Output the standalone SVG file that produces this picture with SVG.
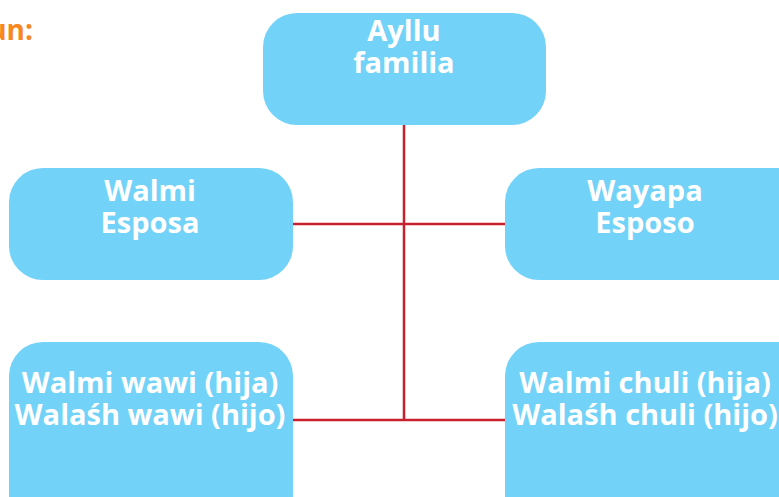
<svg xmlns="http://www.w3.org/2000/svg" width="779" height="497" viewBox="0 0 779 497">
<style>
.box{fill:#72d2f7}
.t{font-family:"Open Sans","Liberation Sans",sans-serif;font-weight:bold;font-size:29px;fill:#ffffff;text-anchor:middle}
.c{stroke:#c8202f;stroke-width:2.5;fill:none}
</style>
<rect width="779" height="497" fill="#ffffff"/>
<text x="33" y="40" font-family="Open Sans, Liberation Sans, sans-serif" font-weight="bold" font-size="28" fill="#f7871f" text-anchor="end">un:</text>
<g id="connectors">
<line class="c" x1="404" y1="125" x2="404" y2="420"/>
<line class="c" x1="293" y1="224" x2="505" y2="224"/>
<line class="c" x1="293" y1="420" x2="505" y2="420"/>
</g>
<g id="ayllu">
<rect class="box" x="263" y="13" width="283" height="112" rx="34"/>
<text class="t" x="404" y="41">Ayllu</text>
<text class="t" x="404" y="73">familia</text>
</g>
<g id="walmi">
<rect class="box" x="9" y="168" width="284" height="112" rx="34"/>
<text class="t" x="150" y="201">Walmi</text>
<text class="t" x="150" y="233">Esposa</text>
</g>
<g id="wayapa">
<rect class="box" x="505" y="168" width="310" height="112" rx="34"/>
<text class="t" x="645" y="201">Wayapa</text>
<text class="t" x="645" y="233">Esposo</text>
</g>
<g id="wawi">
<rect class="box" x="9" y="342" width="284" height="190" rx="34"/>
<text class="t" x="150" y="393">Walmi wawi (hija)</text>
<text class="t" x="150" y="425">Walaśh wawi (hijo)</text>
</g>
<g id="chuli">
<rect class="box" x="505" y="342" width="310" height="190" rx="34"/>
<text class="t" x="645" y="393">Walmi chuli (hija)</text>
<text class="t" x="645" y="425">Walaśh chuli (hijo)</text>
</g>
</svg>
